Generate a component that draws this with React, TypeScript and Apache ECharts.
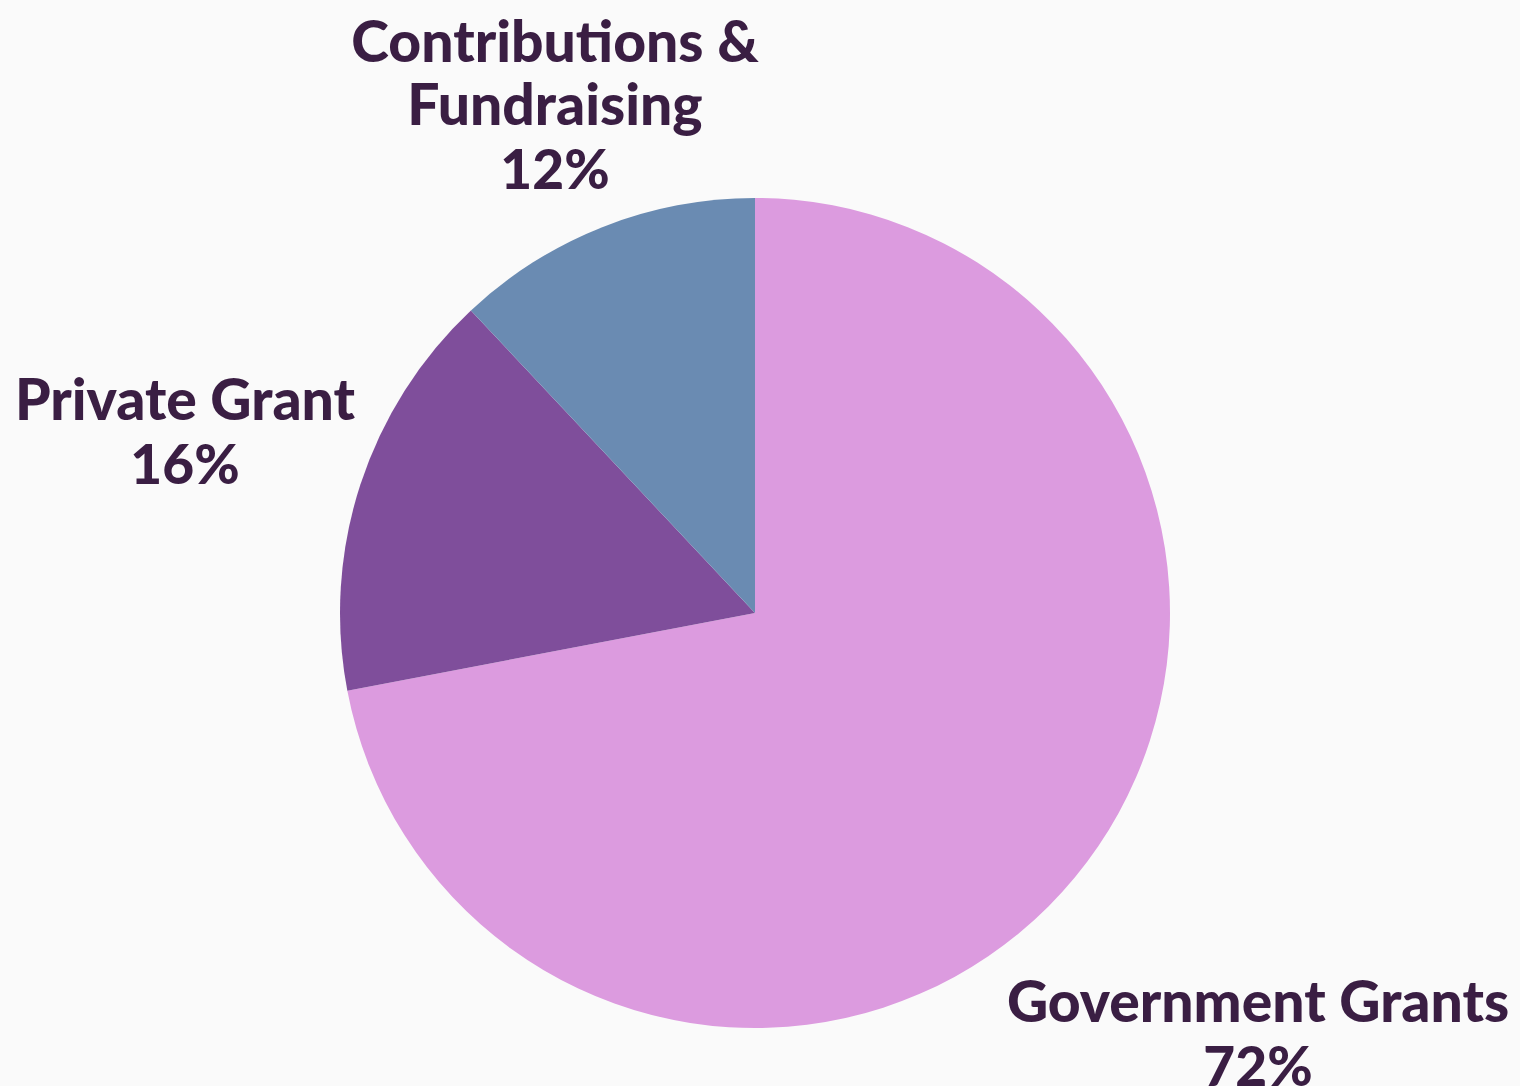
import React, { useEffect, useRef } from "react";
import * as echarts from "echarts";

const categories = ["Government Grants", "Private Grant", "Contributions &\nFundraising"];
const shares = [72, 16, 12];
const sliceColors = ["#DC9BDF", "#7F4E9B", "#6A8BB2"];

// label anchor positions (layout only)
const labelAnchors = [
  { x: 1258, y: 968 },
  { x: 185, y: 366 },
  { x: 555, y: 8 },
];

export default function App() {
  const ref = useRef<HTMLDivElement>(null);
  useEffect(() => {
    document.body.style.margin = "0";
    const chart = echarts.init(ref.current!, undefined, { renderer: "svg" });
    chart.setOption({
      animation: false,
      backgroundColor: "#FAFAFA",
      series: [
        {
          type: "pie",
          center: [755, 613],
          radius: 415,
          startAngle: 90,
          clockwise: true,
          silent: true,
          data: categories.map((c, i) => ({
            name: c,
            value: shares[i],
            itemStyle: { color: sliceColors[i] },
          })),
          label: {
            show: true,
            position: "outside",
            overflow: "none",
            formatter: (p: any) =>
              `{n|${p.name.split("\n").join("}\n{n|")}}\n{p|${p.value}%}`,
            rich: {
              n: {
                fontFamily: "Lato",
                fontWeight: 900,
                fontSize: 57,
                lineHeight: 63,
                color: "#3A1E43",
                align: "center",
              },
              p: {
                fontFamily: "Lato",
                fontWeight: 900,
                fontSize: 55,
                lineHeight: 68,
                color: "#3A1E43",
                align: "center",
              },
            },
          },
          labelLine: { show: false },
          labelLayout: (params: any) => {
            const a = labelAnchors[params.dataIndex];
            return { x: a.x, y: a.y, align: "center", verticalAlign: "top" };
          },
        },
      ],
    });
    return () => chart.dispose();
  }, []);
  return (
    <div
      ref={ref}
      style={{ position: "absolute", left: 0, top: 0, width: 1520, height: 1086 }}
    />
  );
}
